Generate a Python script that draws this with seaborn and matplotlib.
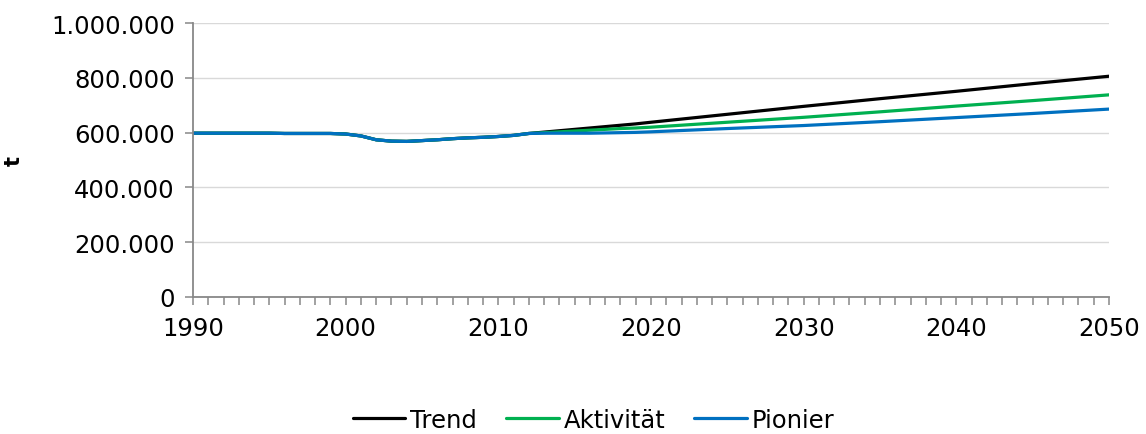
import matplotlib
matplotlib.use("Agg")
import matplotlib.pyplot as plt
from matplotlib.ticker import FuncFormatter, MultipleLocator
import seaborn as sns
import pandas as pd

# Shared history (all scenarios identical), tonnes
hist_years = [1990, 1991, 1992, 1993, 1994, 1995, 1996, 1997, 1998, 1999,
              2000, 2001, 2002, 2003, 2004, 2005, 2006, 2007, 2008, 2009,
              2010, 2011, 2012]
hist_values = [598000, 598000, 598000, 598000, 598000, 598000, 597000, 597000, 597000, 597000,
               595000, 588000, 574000, 569000, 568000, 571000, 574000, 578000, 581000, 583000,
               586000, 590000, 597000]

# Scenario projections
proj_years = [2012, 2013, 2014, 2015, 2016, 2017, 2018, 2019, 2020,
              2025, 2030, 2035, 2040, 2045, 2050]
trend = [597000, 602000, 607000, 612000, 617000, 622000, 627000, 632000, 638000,
         667000, 696000, 724000, 751000, 779000, 806000]
aktivitaet = [597000, 600000, 603000, 606000, 609000, 612000, 615000, 617000, 620000,
              638000, 656000, 676000, 697000, 717000, 738000]
pionier = [597000, 598000, 598000, 598000, 598000, 599000, 600000, 601000, 603000,
           615000, 626000, 640000, 655000, 670000, 686000]

scenarios = ["Trend", "Aktivität", "Pionier"]
colors = ["#000000", "#00B050", "#0070C0"]

frames = []
for name, proj in zip(scenarios, [trend, aktivitaet, pionier]):
    years = hist_years[:-1] + proj_years
    vals = hist_values[:-1] + proj
    frames.append(pd.DataFrame({"Jahr": years, "Wert": vals, "Szenario": name}))
df = pd.concat(frames, ignore_index=True)

sns.set_style("white")
plt.rcParams["font.family"] = ["DejaVu Sans"]
plt.rcParams["text.color"] = "black"
plt.rcParams["xtick.labelcolor"] = "black"
plt.rcParams["ytick.labelcolor"] = "black"
plt.rcParams["axes.labelcolor"] = "black"

fig = plt.figure(figsize=(11.46, 4.35), dpi=100)
ax = fig.add_axes([0.1684, 0.315, 0.7993, 0.6296])

sns.lineplot(data=df, x="Jahr", y="Wert", hue="Szenario", hue_order=scenarios,
             palette=colors, linewidth=2.3, ax=ax, legend=True)

ax.set_xlim(1990, 2050)
ax.set_ylim(0, 1000000)
ax.xaxis.set_major_locator(MultipleLocator(10))
ax.xaxis.set_minor_locator(MultipleLocator(1))
ax.yaxis.set_major_locator(MultipleLocator(200000))
ax.yaxis.set_major_formatter(FuncFormatter(lambda v, p: f"{int(v):,}".replace(",", ".")))

ax.grid(axis="y", color="#d9d9d9", linewidth=1)
ax.set_axisbelow(True)
for s in ["top", "right"]:
    ax.spines[s].set_visible(False)
for s in ["left", "bottom"]:
    ax.spines[s].set_color("#888888")
    ax.spines[s].set_linewidth(1.3)

ax.tick_params(axis="x", which="both", direction="out", length=6, width=1.1,
               color="#888888", bottom=True, labelsize=17.5, pad=8)
ax.tick_params(axis="y", which="major", direction="out", length=6, width=1.1,
               color="#888888", left=True, labelsize=17.5, pad=7)

ax.set_xlabel("")
ax.set_ylabel("t", fontsize=15, fontweight="bold")
ax.yaxis.set_label_coords(-0.185, 0.5)

handles, labels = ax.get_legend_handles_labels()
leg = fig.legend(handles, labels, loc="lower center", bbox_to_anchor=(0.518, -0.045),
                 ncol=3, frameon=False, fontsize=17.5, handlelength=2.15,
                 handletextpad=0.2, columnspacing=1.2)
ax.get_legend().remove()

fig.savefig("out.png", dpi=100)
